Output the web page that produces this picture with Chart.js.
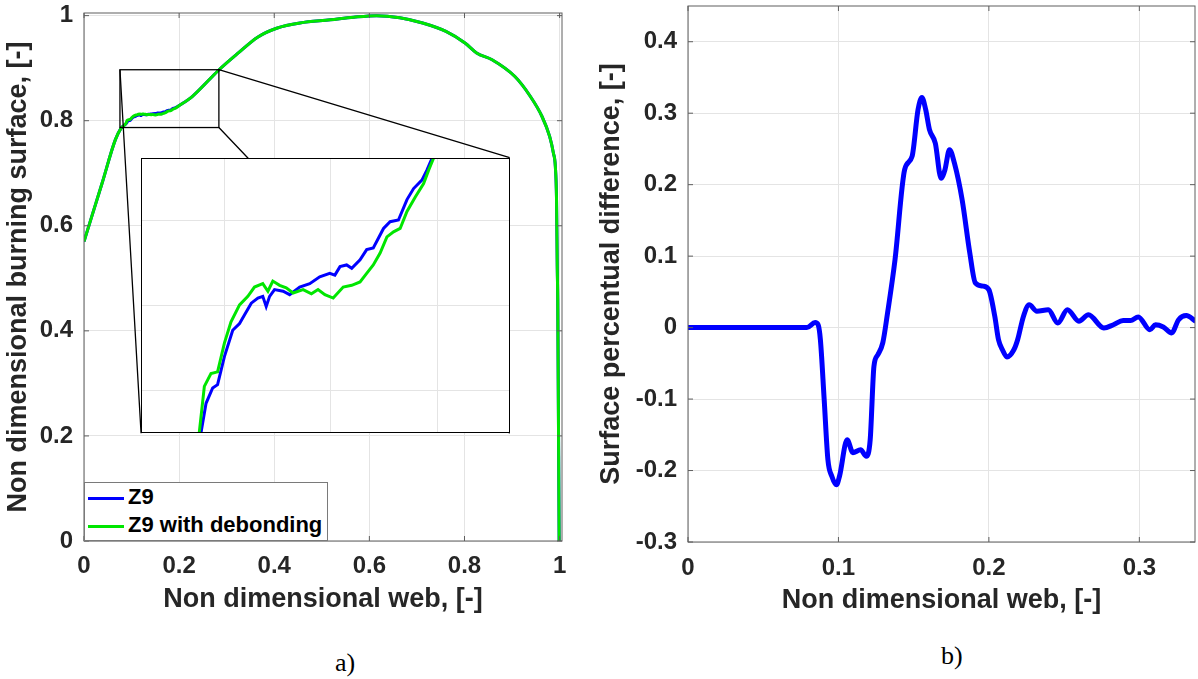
<!DOCTYPE html>
<html>
<head>
<meta charset="utf-8">
<script src="https://cdn.jsdelivr.net/npm/chart.js@4.4.1/dist/chart.umd.min.js"></script>
<style>
    body { margin: 0; background: #fff; width: 1198px; height: 679px; overflow: hidden; position: relative; }
    canvas { position: absolute; }
    #chartA { left: 0; top: 0; }
    #chartB { left: 590px; top: 0; }
    #inset { background: #fff; }
    .legend { position: absolute; left: 84px; top: 482px; width: 244px; height: 59px; box-sizing: border-box;
              border: 1px solid #7a7a7a; background: #fff; font: bold 22px 'Liberation Sans', Arial, sans-serif; color: #000; }
    .legend .row { position: absolute; left: 3px; height: 26px; line-height: 26px; white-space: nowrap; }
    .legend .swatch { display: inline-block; width: 36px; height: 3px; vertical-align: middle; margin-right: 4px; }
    .cap { position: absolute; font-family: 'Liberation Serif', 'Times New Roman', serif; font-size: 26px; line-height: 26px; color: #000; }
</style>
</head>
<body>
<canvas id="chartA" width="600" height="630"></canvas>
<canvas id="chartB" width="608" height="630"></canvas>
<canvas id="inset"></canvas>
<div class="legend" id="legendA"></div>
<div class="cap" style="left:335px; top:650px;">a)</div>
<div class="cap" style="left:941px; top:643px;">b)</div>
<script>
// a) burning surface vs web, both grains (identical outside the zoomed part)
const webMain = [0, 0.038, 0.066, 0.078, 0.2275, 0.26, 0.284, 0.3245, 0.365, 0.405, 0.454, 0.518, 0.567, 0.615,
                 0.664, 0.712, 0.761, 0.801, 0.8255, 0.858, 0.906, 0.9386, 0.963, 0.979, 0.987, 0.991, 0.9935, 0.995, 0.996, 0.999];
const surfMain = [0.57, 0.681, 0.764, 0.786, 0.846, 0.875, 0.897, 0.929, 0.959, 0.976, 0.986, 0.992, 0.997, 1.0,
                  0.996, 0.986, 0.970, 0.948, 0.929, 0.916, 0.884, 0.846, 0.808, 0.770, 0.738, 0.713, 0.650, 0.522, 0.459, 0.0];

// zoomed part, Z9
const webZ9 = [0.0891, 0.0915, 0.0946, 0.0969, 0.1001, 0.104, 0.1072, 0.1095, 0.1127, 0.1158, 0.1181, 0.1197,
               0.1213, 0.1236, 0.1276, 0.1307, 0.1354, 0.1401, 0.1448, 0.1495, 0.1519, 0.1543, 0.1574, 0.1598,
               0.1637, 0.1668, 0.1699, 0.1747, 0.1778, 0.1817, 0.1857, 0.1888, 0.1927, 0.1951, 0.1975];
const surfZ9 = [0.795, 0.7985, 0.8003, 0.8007, 0.804, 0.8071, 0.8079, 0.8089, 0.8103, 0.8109, 0.8111, 0.8099,
                0.8111, 0.8119, 0.8117, 0.8113, 0.8122, 0.8126, 0.8134, 0.8138, 0.8136, 0.8146, 0.8148, 0.8144,
                0.8154, 0.8166, 0.8168, 0.8191, 0.8199, 0.8201, 0.8225, 0.8238, 0.8248, 0.826, 0.8274];

// zoomed part, Z9 with debonding
const webDeb = [0.0883, 0.0907, 0.0938, 0.0969, 0.1001, 0.1032, 0.1072, 0.1111, 0.1142, 0.1181, 0.1205, 0.1228,
                0.126, 0.1291, 0.1323, 0.137, 0.1409, 0.144, 0.1472, 0.1511, 0.1558, 0.1598, 0.1637, 0.1668,
                0.1699, 0.1731, 0.1763, 0.1794, 0.1825, 0.1857, 0.1896, 0.1935, 0.1959, 0.1982];
const surfDeb = [0.795, 0.8005, 0.802, 0.8022, 0.8056, 0.8081, 0.8101, 0.8111, 0.8122, 0.8126, 0.8117, 0.8129,
                 0.8124, 0.8121, 0.8115, 0.8119, 0.8114, 0.8119, 0.8113, 0.8109, 0.8122, 0.8124, 0.8128, 0.8138,
                 0.8148, 0.8162, 0.8181, 0.8187, 0.8191, 0.8211, 0.8228, 0.8244, 0.826, 0.8274];

// b) surface percentual difference
const webDiff = [0, 0.079, 0.0845, 0.0865, 0.088, 0.0905, 0.093, 0.0956, 0.0987, 0.1007, 0.1058, 0.1096, 0.1147,
                 0.1185, 0.1211, 0.1236, 0.1262, 0.1295, 0.1326, 0.1376, 0.144, 0.149, 0.1529, 0.1555, 0.158,
                 0.1605, 0.1644, 0.1682, 0.1708, 0.1738, 0.1771, 0.1822, 0.1873, 0.191, 0.1962, 0.2, 0.2039,
                 0.2064, 0.209, 0.212, 0.2166, 0.2191, 0.223, 0.2268, 0.2319, 0.2395, 0.2458, 0.2522, 0.2598,
                 0.2662, 0.2764, 0.2828, 0.2892, 0.2942, 0.2993, 0.307, 0.3108, 0.3159, 0.3215, 0.3261, 0.3312, 0.3375];
const surfDiff = [0, 0, 0.007, 0.004, -0.017, -0.1, -0.185, -0.208, -0.22, -0.208, -0.157, -0.175, -0.171,
                  -0.18, -0.157, -0.054, -0.038, -0.021, 0.02, 0.095, 0.221, 0.24, 0.305, 0.322, 0.305,
                  0.277, 0.258, 0.209, 0.221, 0.249, 0.23, 0.179, 0.1045, 0.0625, 0.058, 0.053, 0.016,
                  -0.017, -0.031, -0.041, -0.031, -0.017, 0.016, 0.032, 0.023, 0.025, 0.0065, 0.025, 0.009,
                  0.018, -0.0005, 0.004, 0.0098, 0.0098, 0.015, -0.003, 0.004, 0.001, -0.0074, 0.011, 0.0168, 0.0088];

const seriesNames = ['Z9', 'Z9 with debonding'];

// tick values
const webTicksA = [0, 0.2, 0.4, 0.6, 0.8, 1];
const surfTicksA = [0, 0.2, 0.4, 0.6, 0.8, 1];
const webTicksB = [0, 0.1, 0.2, 0.3];
const diffTicksB = [-0.3, -0.2, -0.1, 0, 0.1, 0.2, 0.3, 0.4];
const insetWebTicks = [0.1, 0.15, 0.2];
const insetSurfTicks = [0.8, 0.81, 0.82];

// zoom rectangle and where the inset sits, in axes a) data units
const zoomBox = { x0: 0.0756, x1: 0.2836, y0: 0.787, y1: 0.897 };
const insetBox = { x0: 0.12, x1: 0.895, y0: 0.205, y1: 0.7295 };

const BLUE = '#0000ff';
const GREEN = '#00e600';
const TEXT = '#262626';
const GRID = '#e4e4e4';
const FONT = "'Liberation Sans', Arial, sans-serif";
const tickFont = { family: FONT, size: 24, weight: 'bold' };
const titleFont = { family: FONT, size: 27, weight: 'bold' };

function toPoints(xs, ys) {
    return xs.map((x, i) => ({ x: x, y: ys[i] }));
}

// main curve with the detailed zoomed part put in its place
function mergedSeries(xs, ys) {
    const lo = xs[0], hi = xs[xs.length - 1];
    const outside = toPoints(webMain, surfMain).filter(p => p.x < lo || p.x > hi);
    return outside.concat(toPoints(xs, ys)).sort((a, b) => a.x - b.x);
}

function fixedTicks(values) {
    return scale => { scale.ticks = values.map(v => ({ value: v })); };
}

function fixedSize(prop, size) {
    return scale => {
        scale[prop] = size;
        scale.paddingTop = 0; scale.paddingBottom = 0;
        scale.paddingLeft = 0; scale.paddingRight = 0;
    };
}

function axis(min, max, ticks, sizeProp, size, title, tickPad, titlePad) {
    return {
        type: 'linear', min: min, max: max,
        afterBuildTicks: fixedTicks(ticks),
        afterFit: fixedSize(sizeProp, size),
        ticks: { font: tickFont, color: TEXT, padding: tickPad, autoSkip: false, maxRotation: 0, callback: v => String(v) },
        grid: { color: GRID, lineWidth: 1, drawTicks: false },
        border: { display: false },
        title: { display: true, text: title, font: titleFont, color: TEXT, padding: titlePad }
    };
}

// box round the axes with small inward ticks, like MATLAB
const framePlugin = {
    id: 'frame',
    afterDraw(chart, args, opts) {
        const { ctx, chartArea: a, scales } = chart;
        ctx.save();
        ctx.strokeStyle = opts.color;
        ctx.lineWidth = opts.width;
        ctx.strokeRect(a.left, a.top, a.right - a.left, a.bottom - a.top);
        if (opts.tickLen) {
            ctx.beginPath();
            scales.x.ticks.forEach(t => {
                const px = scales.x.getPixelForValue(t.value);
                ctx.moveTo(px, a.bottom); ctx.lineTo(px, a.bottom - opts.tickLen);
                ctx.moveTo(px, a.top); ctx.lineTo(px, a.top + opts.tickLen);
            });
            scales.y.ticks.forEach(t => {
                const py = scales.y.getPixelForValue(t.value);
                ctx.moveTo(a.left, py); ctx.lineTo(a.left + opts.tickLen, py);
                ctx.moveTo(a.right, py); ctx.lineTo(a.right - opts.tickLen, py);
            });
            ctx.stroke();
        }
        ctx.restore();
    }
};

// zoom rectangle and connector lines towards the inset
const zoomPlugin = {
    id: 'zoomMarks',
    afterDatasetsDraw(chart) {
        const { ctx, scales: { x, y } } = chart;
        const px = v => x.getPixelForValue(v);
        const py = v => y.getPixelForValue(v);
        ctx.save();
        ctx.strokeStyle = '#000';
        ctx.lineWidth = 1.3;
        ctx.strokeRect(px(zoomBox.x0), py(zoomBox.y1), px(zoomBox.x1) - px(zoomBox.x0), py(zoomBox.y0) - py(zoomBox.y1));
        ctx.beginPath();
        ctx.moveTo(px(zoomBox.x0), py(zoomBox.y1)); ctx.lineTo(px(insetBox.x0), py(insetBox.y0));
        ctx.moveTo(px(zoomBox.x1), py(zoomBox.y1)); ctx.lineTo(px(insetBox.x1), py(insetBox.y1));
        ctx.moveTo(px(zoomBox.x1), py(zoomBox.y0)); ctx.lineTo(px(insetBox.x1), py(insetBox.y0));
        ctx.stroke();
        ctx.restore();
    }
};

const baseOptions = {
    responsive: false,
    animation: false,
    events: [],
    plugins: { legend: { display: false }, tooltip: { enabled: false } }
};

// Chart a)
const chartA = new Chart(document.getElementById('chartA'), {
    type: 'line',
    data: {
        datasets: [
            { label: seriesNames[1], data: mergedSeries(webDeb, surfDeb), borderColor: GREEN, borderWidth: 3,
              pointRadius: 0, cubicInterpolationMode: 'monotone', order: 0 },
            { label: seriesNames[0], data: mergedSeries(webZ9, surfZ9), borderColor: BLUE, borderWidth: 3,
              pointRadius: 0, cubicInterpolationMode: 'monotone', order: 1 }
        ]
    },
    options: {
        ...baseOptions,
        layout: { padding: { left: 0, right: 38, top: 13, bottom: 0 } },
        plugins: { ...baseOptions.plugins, frame: { color: '#5e5e5e', width: 1, tickLen: 5 } },
        scales: {
            x: axis(0, 1.005, webTicksA, 'height', 89, 'Non dimensional web, [-]', 11, { top: 0, bottom: 14 }),
            y: axis(0, 1.005, surfTicksA, 'width', 84, 'Non dimensional burning surface, [-]', 11, { top: 2, bottom: 0 })
        }
    },
    plugins: [zoomPlugin, framePlugin]
});

// Chart b)
new Chart(document.getElementById('chartB'), {
    type: 'line',
    data: {
        datasets: [{
            label: 'difference',
            data: toPoints(webDiff, surfDiff),
            borderColor: BLUE,
            borderWidth: 5,
            pointRadius: 0,
            cubicInterpolationMode: 'monotone'
        }]
    },
    options: {
        ...baseOptions,
        layout: { padding: { left: 0, right: 3, top: 6, bottom: 0 } },
        plugins: { ...baseOptions.plugins, frame: { color: '#5e5e5e', width: 1, tickLen: 5 } },
        scales: {
            x: axis(0, 0.337, webTicksB, 'height', 88, 'Non dimensional web, [-]', 12, { top: 0, bottom: 13 }),
            y: axis(-0.3, 0.45, diffTicksB, 'width', 98, 'Surface percentual difference, [-]', 11, { top: 5, bottom: 0 })
        }
    },
    plugins: [framePlugin]
});

// Inset, placed from the main axes
const xa = chartA.scales.x, ya = chartA.scales.y;
const insetLeft = Math.round(xa.getPixelForValue(insetBox.x0));
const insetRight = Math.round(xa.getPixelForValue(insetBox.x1));
const insetTop = Math.round(ya.getPixelForValue(insetBox.y1));
const insetBottom = Math.round(ya.getPixelForValue(insetBox.y0));
const insetCanvas = document.getElementById('inset');
insetCanvas.width = insetRight - insetLeft;
insetCanvas.height = insetBottom - insetTop;
insetCanvas.style.left = insetLeft + 'px';
insetCanvas.style.top = insetTop + 'px';

function insetAxis(min, max, ticks, sizeProp) {
    return {
        type: 'linear', min: min, max: max,
        afterBuildTicks: fixedTicks(ticks),
        afterFit: fixedSize(sizeProp, 0),
        ticks: { display: false },
        grid: { color: GRID, lineWidth: 1, drawTicks: false },
        border: { display: false }
    };
}

new Chart(insetCanvas, {
    type: 'line',
    data: {
        datasets: [
            { label: seriesNames[1], data: toPoints(webDeb, surfDeb), borderColor: GREEN, borderWidth: 3, pointRadius: 0, order: 0 },
            { label: seriesNames[0], data: toPoints(webZ9, surfZ9), borderColor: BLUE, borderWidth: 3, pointRadius: 0, order: 1 }
        ]
    },
    options: {
        ...baseOptions,
        layout: { padding: 0 },
        plugins: { ...baseOptions.plugins, frame: { color: '#000', width: 2, tickLen: 0 } },
        scales: {
            x: insetAxis(0.061, 0.234, insetWebTicks, 'height'),
            y: insetAxis(0.795, 0.8274, insetSurfTicks, 'width')
        }
    },
    plugins: [framePlugin]
});

// Legend for a)
const legendColours = [BLUE, GREEN];
document.getElementById('legendA').innerHTML = seriesNames.map((name, i) =>
    `<div class="row" style="top:${1 + i * 28}px"><span class="swatch" style="background:${legendColours[i]}"></span>${name}</div>`
).join('');
</script>
</body>
</html>
